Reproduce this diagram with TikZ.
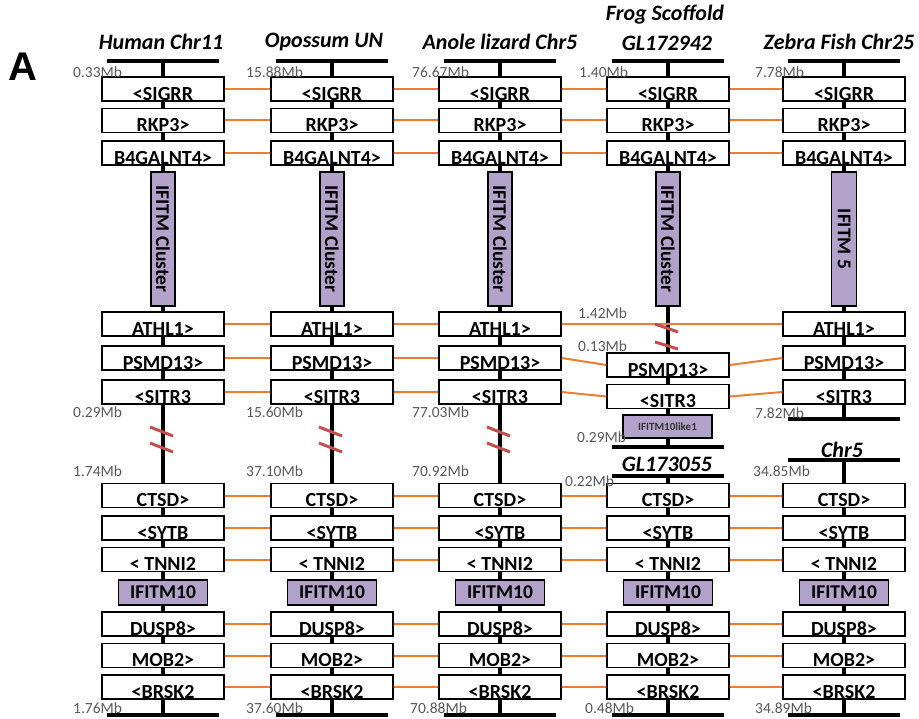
\documentclass[tikz,border=0pt]{standalone}
\usepackage{fontspec}
\setmainfont{Carlito}
\newfontfamily\arialfont{Liberation Sans}
\definecolor{gpurple}{RGB}{178,162,202}
\definecolor{gorange}{RGB}{236,125,49}
\definecolor{gred}{RGB}{192,80,77}
\definecolor{ggray}{RGB}{89,89,89}
\newcommand\genebox[4]{\node[gbox] (#1) at (#2,#3) {}; \node[glab] (#1t) at ([yshift=1.2pt]#1.south) {#4};}
\begin{document}
\begin{tikzpicture}[x=1pt,y=-1pt,
 gbox/.style={draw, line width=1.3pt, fill=white, minimum width=122pt, minimum height=24pt, inner sep=0pt},
 glab/.style={anchor=base, inner sep=0pt, font=\fontsize{20}{21}\selectfont\bfseries},
 pbox/.style={draw, line width=1.3pt, fill=gpurple, inner sep=0pt, font=\fontsize{19.5}{20}\selectfont\bfseries},
 spine/.style={line width=4pt},
 bar/.style={line width=4.5pt},
 conn/.style={gorange, line width=2pt},
 mb/.style={anchor=west, inner sep=0pt, text=ggray, font=\fontsize{15.5}{16}\selectfont},
 head/.style={inner sep=0pt, font=\fontsize{22}{24}\selectfont\bfseries\itshape},
 brk/.style={gred, line width=3pt},
]
\useasboundingbox (0,0) rectangle (919,719);
% spines and bars
\foreach \x in {163,332,500} {
  \draw[spine] (\x,61) -- (\x,715);
  \draw[bar] (\x-56,61) -- (\x+56,61);
  \draw[bar] (\x-56,715) -- (\x+56,715);
}
\draw[spine] (668,61) -- (668,447);
\draw[spine] (668,476) -- (668,715);
\draw[bar] (612,61) -- (724,61);
\draw[bar] (612,447) -- (724,447);
\draw[bar] (612,476) -- (724,476);
\draw[bar] (612,715) -- (724,715);
\draw[spine] (844,61) -- (844,419);
\draw[spine] (844,460) -- (844,715);
\draw[bar] (788,61) -- (900,61);
\draw[bar] (788,419) -- (900,419);
\draw[bar] (788,460) -- (900,460);
\draw[bar] (788,715) -- (900,715);
% gene boxes
\foreach \c/\x in {h/163,o/332,a/500,f/668,z/844} {
  \foreach \g/\y/\t in {sig/89/{<SIGRR},rkp/120.5/{RKP3>},b4g/153/{B4GALNT4>},cts/495.5/{CTSD>},syt/528/{<SYTB},tnn/559.5/{< TNNI2},dus/624/{DUSP8>},mob/655.5/{MOB2>},brs/687/{<BRSK2}} {
    \genebox{\c\g}{\x}{\y}{\t}
  }
  \node[pbox, minimum width=89pt, minimum height=25pt] (\c ift) at (\x,592.5) {IFITM10};
}
\foreach \c/\x in {h/163,o/332,a/500,z/844} {
  \genebox{\c ath}{\x}{324}{ATHL1>}
  \genebox{\c psm}{\x}{358}{PSMD13>}
  \genebox{\c sit}{\x}{392}{<SITR3}
}
\genebox{fpsm}{668}{365}{PSMD13>}
\genebox{fsit}{668}{396.5}{<SITR3}
\foreach \c/\x in {h/163,o/332,a/500,f/668} {
  \node[pbox, rotate=-90, minimum width=134pt, minimum height=24pt] (\c clu) at (\x,239) {IFITM Cluster};
}
\node[pbox, rotate=-90, minimum width=134pt, minimum height=25pt] (zclu) at (844,239) {IFITM 5};
\node[pbox, minimum width=89pt, minimum height=23pt, font=\fontsize{11}{12}\selectfont\bfseries, text=black!80] (flike) at (667.5,426.5) {IFITM10like1};
% connectors
\foreach \g in {sig,rkp,b4g,cts,syt,tnn,dus,mob,brs} {
  \draw[conn] (h\g.east) -- (o\g.west);
  \draw[conn] (o\g.east) -- (a\g.west);
  \draw[conn] (a\g.east) -- (f\g.west);
  \draw[conn] (f\g.east) -- (z\g.west);
}
\draw[conn] (hath.east) -- (oath.west);
\draw[conn] (oath.east) -- (aath.west);
\draw[conn] (aath.east) -- (zath.west);
\foreach \g in {psm,sit} {
  \draw[conn] (h\g.east) -- (o\g.west);
  \draw[conn] (o\g.east) -- (a\g.west);
  \draw[conn] (a\g.east) -- (f\g.west);
  \draw[conn] (f\g.east) -- (z\g.west);
}
% breaks
\foreach \x in {163,332,500} {
  \draw[brk] (\x-13,427) -- (\x+10,436);
  \draw[brk] (\x-13,443) -- (\x+10,452);
}
\draw[brk] (655,324) -- (678,332);
\draw[brk] (655,342) -- (678,349);
% headings
\node[font=\arialfont\fontsize{40}{40}\selectfont\bfseries, inner sep=0pt] (lblA) at (22.5,67) {A};
\node[head] (hh) at (161,42) {Human Chr11};
\node[head] (ho) at (324,42) {Opossum UN};
\node[head] (ha) at (500,42) {Anole lizard Chr5};
\node[head] (hf1) at (665,15) {Frog Scoffold};
\node[head] (hf2) at (667,43) {GL172942};
\node[head] (hz) at (839,42) {Zebra Fish Chr25};
\node[head] (hf3) at (667,464) {GL173055};
\node[head] (hz2) at (842,450) {Chr5};
% Mb labels
\node[mb] (m1) at (73,72) {0.33Mb};
\node[mb] (m2) at (246,72) {15.88Mb};
\node[mb] (m3) at (412,72) {76.67Mb};
\node[mb] (m4) at (579,72) {1.40Mb};
\node[mb] (m5) at (755,72) {7.78Mb};
\node[mb] (m6) at (73,412) {0.29Mb};
\node[mb] (m7) at (246,412) {15.60Mb};
\node[mb] (m8) at (412,412) {77.03Mb};
\node[mb] (m9) at (755,413) {7.82Mb};
\node[mb] (m10) at (73,471) {1.74Mb};
\node[mb] (m11) at (246,471) {37.10Mb};
\node[mb] (m12) at (412,471) {70.92Mb};
\node[mb] (m13) at (753,471) {34.85Mb};
\node[mb] (m14) at (578,313) {1.42Mb};
\node[mb] (m15) at (578,346) {0.13Mb};
\node[mb] (m16) at (577,437) {0.29Mb};
\node[mb] (m17) at (565,481) {0.22Mb};
\node[mb] (m18) at (73,708) {1.76Mb};
\node[mb] (m19) at (246,708) {37.60Mb};
\node[mb] (m20) at (410,708) {70.88Mb};
\node[mb] (m21) at (585,708) {0.48Mb};
\node[mb] (m22) at (755,708) {34.89Mb};
\end{tikzpicture}
\end{document}
